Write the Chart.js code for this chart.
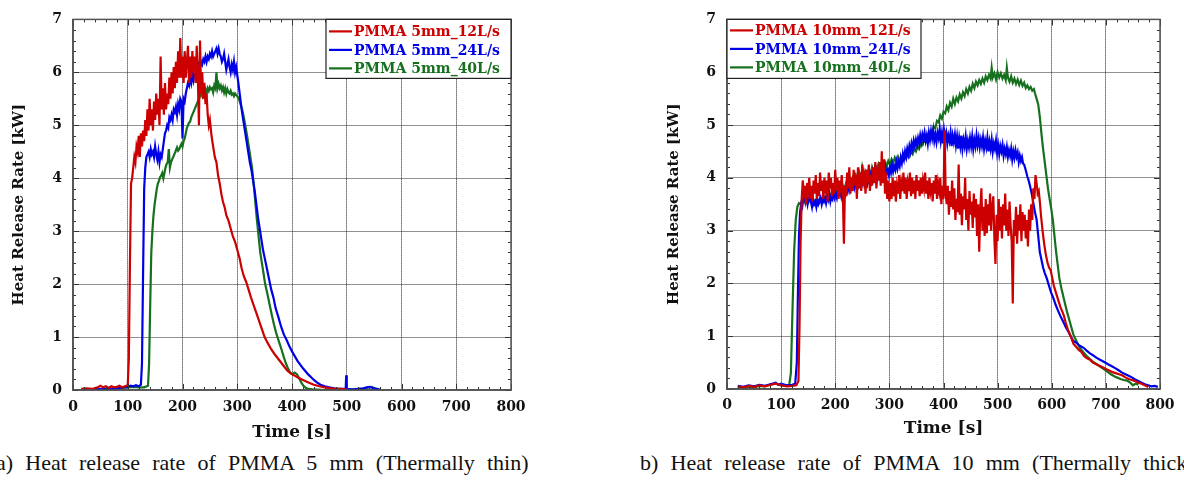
<!DOCTYPE html>
<html><head><meta charset="utf-8">
<script src="https://cdn.jsdelivr.net/npm/chart.js@4.4.0/dist/chart.umd.min.js"></script>
<style>
body{margin:0;width:1184px;height:486px;overflow:hidden;background:#fff;position:relative;}
#c1{position:absolute;left:0;top:0;}
#c2{position:absolute;left:640px;top:0;}
.cap{position:absolute;top:452px;font-family:"Liberation Serif","Times New Roman",Times,serif;font-size:22px;line-height:22px;white-space:nowrap;word-spacing:6.7px;color:#111;}
</style></head>
<body>
<canvas id="c1" width="560" height="450"></canvas>
<canvas id="c2" width="544" height="450"></canvas>
<div class="cap" style="left:-4px">a) Heat release rate of PMMA 5 mm (Thermally thin)</div>
<div class="cap" style="left:640px">b) Heat release rate of PMMA 10 mm (Thermally thick)</div>
<script>
// ---------- tick labels ----------
const xTickValues = [0,100,200,300,400,500,600,700,800];
const yTickValues = [0,1,2,3,4,5,6,7];
const xTitle = 'Time [s]';
const yTitle = 'Heat Release Rate [kW]';
const labels5 = ['PMMA 5mm_12L/s','PMMA 5mm_24L/s','PMMA 5mm_40L/s'];
const labels10 = ['PMMA 10mm_12L/s','PMMA 10mm_24L/s','PMMA 10mm_40L/s'];

// ---------- (a) PMMA 5 mm ----------
const time5_12 = [15,25,35,45,50,55,60,65,70,75,
 80,85,90,95,100,102,104,106,108,110,
 112,114,116,118,120,122,124,126,128,130,
 132,134,136,138,140,142,144,146,148,150,
 152,154,156,158,160,162,164,166,168,170,
 172,174,176,178,180,182,184,186,188,190,
 192,194,196,198,200,202,204,206,208,210,
 212,214,216,218,220,222,224,226,228,230,
 232,234,236,238,240,242,244,246,248,250,
 253,256,259,262,265,268,271,274,277,280,
 284,288,292,296,300,304,308,312,316,320,
 325,330,335,340,345,350,356,362,368,374,
 380,386,392,400,410,420,430,440,450,460,
 470,480,490,500];
const hrr5_12 = [0.02,0.03,0.02,0.05,0.08,0.05,0.07,0.04,0.07,0.05,
 0.06,0.08,0.05,0.07,0.09,0.6,2.4,3.9,4.0,4.2,
 4.4,4.3,4.6,4.5,4.8,4.4,4.85,4.6,4.9,4.7,
 5.1,4.8,5.3,4.9,5.5,5.0,5.3,4.9,5.45,5.1,
 5.6,5.2,5.5,5.0,6.3,5.3,5.7,5.2,5.8,5.3,
 5.6,5.4,5.9,5.5,6.0,5.6,6.1,5.7,6.2,5.8,
 6.4,5.9,6.65,5.9,6.3,5.8,6.4,5.9,6.2,6.5,
 5.8,6.3,5.9,6.4,6.0,6.3,5.8,6.5,5.9,5.0,
 6.6,5.6,6.0,5.5,5.8,5.4,5.6,5.2,5.0,5.1,
 4.8,4.6,4.4,4.3,4.05,3.9,3.7,3.55,3.45,3.3,
 3.2,3.05,2.9,2.8,2.65,2.5,2.3,2.15,2.05,1.92,
 1.75,1.6,1.45,1.3,1.15,1.0,0.88,0.77,0.68,0.6,
 0.52,0.44,0.36,0.3,0.24,0.19,0.14,0.1,0.07,0.05,
 0.03,0.02,0.02,0.01];

const time5_24 = [20,40,60,80,90,100,105,110,115,120,
 124,126,128,130,132,134,136,138,140,142,
 144,146,148,150,152,154,156,158,160,162,
 164,166,168,170,172,174,176,178,180,182,
 184,186,188,190,192,194,196,198,200,202,
 204,206,208,210,212,214,216,218,220,222,
 224,226,228,230,232,234,236,238,240,242,
 244,246,248,250,252,254,256,258,260,262,
 264,266,268,270,272,274,276,278,280,282,
 284,286,288,290,292,294,296,298,300,302,
 305,308,311,314,317,320,323,326,329,332,
 335,338,341,344,347,350,353,356,359,362,
 366,370,375,380,385,390,395,400,405,410,
 415,420,425,430,435,440,446,452,460,468,
 477,486,495,498,499,500,510,520,530,537,
 542,547,553,560];
const hrr5_24 = [0.0,0.01,0.02,0.03,0.05,0.06,0.08,0.07,0.09,0.07,
 0.1,0.5,2.2,3.8,4.2,4.4,4.45,4.5,4.4,4.55,
 4.45,4.5,4.4,4.6,4.45,4.35,4.5,4.3,4.45,4.4,
 4.55,4.7,4.85,4.9,5.0,4.95,5.15,5.1,5.2,5.1,
 5.3,5.25,5.35,5.2,5.4,5.3,5.5,5.45,4.75,5.5,
 5.45,5.6,5.7,5.8,5.75,5.9,5.8,5.95,5.85,6.0,
 6.05,6.1,6.0,6.15,6.1,6.2,6.15,6.25,6.2,6.3,
 6.2,6.3,6.25,6.35,6.3,6.4,6.3,6.35,6.4,6.45,
 6.35,6.45,6.35,6.3,6.2,6.25,6.35,6.2,6.05,6.15,
 6.25,6.1,6.0,6.15,6.05,6.2,6.0,6.1,5.95,5.8,
 5.55,5.3,5.1,4.9,4.7,4.5,4.3,4.15,3.95,3.75,
 3.5,3.25,3.05,2.85,2.65,2.5,2.35,2.2,2.05,1.9,
 1.75,1.55,1.38,1.2,1.05,0.95,0.83,0.73,0.64,0.55,
 0.48,0.41,0.35,0.29,0.24,0.19,0.14,0.1,0.07,0.05,
 0.03,0.02,0.02,0.01,0.28,0.02,0.01,0.02,0.03,0.05,
 0.06,0.04,0.02,0.01];

const time5_40 = [0,20,40,60,80,100,110,120,130,137,
 139,141,143,145,147,149,151,153,155,157,
 159,161,163,165,167,169,171,173,175,177,
 179,181,183,185,187,190,192,194,196,198,
 200,202,204,206,208,210,212,214,216,218,
 220,222,224,226,228,230,232,234,236,238,
 240,242,244,246,248,250,252,254,256,258,
 260,262,264,266,268,270,272,274,276,278,
 280,282,284,286,288,290,292,294,296,298,
 300,303,306,309,312,315,318,321,324,327,
 330,333,336,339,342,345,348,351,355,359,
 363,367,371,376,381,385,389,393,397,401,
 405,409,413,417,421,425,430,440,460,480,
 500,520,530,538,545,552,560];
const hrr5_40 = [0.0,0.0,0.01,0.01,0.03,0.05,0.06,0.05,0.05,0.08,
 0.5,1.6,2.6,3.0,3.3,3.5,3.65,3.8,3.9,3.95,
 4.02,4.05,4.1,4.0,4.1,4.2,4.27,4.3,4.55,4.2,
 4.3,4.35,4.4,4.45,4.5,4.58,4.52,4.55,4.6,4.65,
 4.6,4.7,4.75,4.85,4.95,5.0,5.05,5.07,5.15,5.2,
 5.25,5.3,5.35,5.4,5.45,5.5,5.55,5.6,5.55,5.65,
 5.62,5.68,5.6,5.7,5.65,5.72,5.68,5.7,5.62,5.75,
 5.7,6.0,5.7,5.78,5.7,5.75,5.66,5.72,5.62,5.7,
 5.6,5.68,5.62,5.6,5.65,5.58,5.6,5.55,5.6,5.57,
 5.55,5.5,5.4,5.3,5.15,4.98,4.8,4.6,4.4,4.2,
 3.9,3.55,3.2,2.9,2.6,2.4,2.2,2.0,1.82,1.62,
 1.42,1.24,1.08,0.92,0.76,0.62,0.5,0.4,0.32,0.3,
 0.33,0.3,0.22,0.14,0.08,0.04,0.02,0.01,0.0,0.0,
 0.01,0.01,0.02,0.05,0.06,0.03,0.01];

// ---------- (b) PMMA 10 mm ----------
const time10_12 = [20,30,40,50,60,70,80,90,100,110,
 120,128,132,134,136,138,140,142,144,146,
 148,150,152,154,156,158,160,162,164,166,
 168,170,172,174,176,178,180,182,184,186,
 188,190,192,194,196,198,200,202,204,206,
 208,210,212,214,216,218,220,222,224,226,
 228,230,232,234,236,238,240,242,244,246,
 248,250,252,254,256,258,260,262,264,266,
 268,270,272,274,276,278,280,282,284,286,
 288,290,292,294,296,298,300,302,304,306,
 308,310,312,314,316,318,320,322,324,326,
 328,330,332,334,336,338,340,342,344,346,
 348,350,352,354,356,358,360,362,364,366,
 368,370,372,374,376,378,380,382,384,386,
 388,390,392,394,396,398,400,402,404,406,
 408,410,412,414,416,418,420,422,424,426,
 428,430,432,434,436,438,440,442,444,446,
 448,450,452,454,456,458,460,462,464,466,
 468,470,472,474,476,478,480,482,484,486,
 488,490,492,494,496,498,500,502,504,506,
 508,510,512,514,516,518,520,522,524,526,
 528,530,532,534,536,538,540,542,544,546,
 548,550,552,554,556,558,560,562,564,566,
 568,570,572,574,576,578,580,583,586,589,
 592,595,598,601,604,607,610,613,616,619,
 622,626,630,635,640,645,650,655,660,665,
 670,676,682,688,694,700,706,712,718,724,
 730,736,742,748,754,760,766,772,778];
const hrr10_12 = [0.05,0.03,0.06,0.04,0.07,0.05,0.08,0.1,0.07,0.05,
 0.06,0.07,0.15,1.2,2.8,3.6,3.95,3.7,3.85,3.5,
 3.9,3.75,4.0,3.6,3.85,3.55,3.95,3.7,4.05,3.6,
 3.9,3.65,4.1,3.75,3.95,3.6,4.0,3.7,3.95,3.55,
 4.1,3.8,4.0,3.65,3.9,3.7,4.15,3.75,4.0,3.6,
 3.95,3.8,4.05,3.7,2.75,3.85,3.65,4.1,3.8,4.2,
 3.7,4.0,3.75,4.15,3.85,4.05,3.6,4.2,3.8,4.1,
 3.75,4.25,3.85,4.0,3.7,4.15,3.9,4.25,3.75,4.05,
 3.85,4.2,3.9,4.3,3.8,4.1,3.95,4.3,3.85,4.5,
 3.9,4.35,3.7,4.1,3.6,3.95,3.55,3.9,3.6,4.0,
 3.65,3.95,3.55,3.85,3.7,4.05,3.6,3.9,3.75,4.1,
 3.7,4.0,3.6,3.9,3.75,4.1,3.65,4.0,3.7,3.95,
 3.6,4.05,3.75,3.95,3.65,4.0,3.7,3.95,3.8,4.1,
 3.7,3.95,3.6,4.0,3.75,3.9,3.55,3.95,3.7,4.05,
 3.6,3.9,3.75,4.0,3.5,3.85,3.6,4.9,3.7,3.5,
 3.85,3.3,3.75,3.45,3.95,3.4,3.8,3.2,3.6,3.35,
 4.25,3.3,3.7,3.1,3.65,3.4,4.0,3.2,3.6,3.0,
 3.75,3.3,3.55,3.05,3.7,3.25,3.6,2.9,3.5,2.6,
 3.4,3.8,3.0,3.45,2.9,3.6,2.95,3.5,3.1,3.7,
 3.0,3.45,3.65,2.85,2.37,3.3,2.8,3.6,3.0,3.45,
 2.85,3.5,3.1,3.7,3.0,3.4,2.9,3.55,3.1,2.8,
 1.62,3.2,2.9,3.45,2.75,3.3,3.0,3.5,2.8,3.35,
 3.0,3.3,2.85,3.2,2.7,3.4,3.0,3.5,3.2,3.8,
 3.6,4.05,3.9,3.7,3.75,3.55,3.3,3.0,2.75,2.55,
 2.4,2.3,2.25,2.1,1.95,1.85,1.75,1.65,1.55,1.48,
 1.4,1.25,1.12,1.0,0.86,0.8,0.74,0.7,0.62,0.58,
 0.56,0.5,0.47,0.44,0.41,0.38,0.35,0.32,0.3,0.28,
 0.26,0.22,0.19,0.17,0.15,0.12,0.1,0.07,0.04];

const time10_24 = [20,30,40,50,60,70,80,90,95,100,
 110,120,126,129,131,133,135,137,139,141,
 143,145,147,149,151,153,155,157,159,161,
 163,165,167,169,171,173,175,177,179,181,
 183,185,187,189,191,193,195,197,199,201,
 203,205,207,209,211,213,215,217,219,221,
 223,225,227,229,231,233,235,237,239,241,
 243,245,247,249,251,253,255,257,259,261,
 263,265,267,269,271,273,275,277,279,281,
 283,285,287,289,291,293,295,297,299,301,
 303,305,307,309,311,313,315,317,319,321,
 323,325,327,329,331,333,335,337,339,341,
 343,345,347,349,351,353,355,357,359,361,
 363,365,367,369,371,373,375,377,379,381,
 383,385,387,389,391,393,395,397,399,401,
 403,405,407,409,411,413,415,417,419,421,
 423,425,427,429,431,433,435,437,439,441,
 443,445,447,449,451,453,455,457,459,461,
 463,465,467,469,471,473,475,477,479,481,
 483,485,487,489,491,493,495,497,499,501,
 503,505,507,509,511,513,515,517,519,521,
 523,525,527,529,531,533,535,537,539,541,
 543,545,547,549,551,553,555,557,560,563,
 566,569,572,575,578,581,584,587,591,595,
 599,603,607,611,616,621,626,631,636,640,
 645,650,655,659,665,670,676,683,690,697,
 704,711,718,724,730,736,742,748,754,760,
 766,772,778,784,790,796];
const hrr10_24 = [0.06,0.04,0.07,0.05,0.08,0.06,0.09,0.12,0.08,0.1,
 0.07,0.08,0.1,0.5,1.8,2.9,3.35,3.5,3.45,3.6,
 3.7,3.55,3.65,3.5,3.6,3.7,3.55,3.45,3.6,3.5,
 3.55,3.45,3.6,3.5,3.55,3.62,3.5,3.6,3.55,3.62,
 3.52,3.65,3.58,3.7,3.55,3.65,3.6,3.72,3.62,3.7,
 3.62,3.75,3.68,3.75,3.65,3.8,3.7,3.78,3.7,3.82,
 3.74,3.85,3.76,3.85,3.8,3.88,3.8,3.9,3.82,3.92,
 3.85,3.95,3.86,3.95,3.88,4.0,3.9,3.95,3.88,4.02,
 3.92,4.05,3.95,4.1,3.98,4.05,3.96,4.12,4.0,4.08,
 4.0,4.15,4.05,4.12,4.02,4.18,4.08,4.15,4.05,4.2,
 4.1,4.25,4.12,4.22,4.15,4.3,4.18,4.3,4.22,4.38,
 4.28,4.45,4.35,4.5,4.4,4.55,4.45,4.6,4.5,4.65,
 4.55,4.7,4.6,4.72,4.62,4.75,4.65,4.8,4.68,4.82,
 4.72,4.85,4.7,4.8,4.65,4.85,4.72,4.88,4.75,4.9,
 4.7,4.82,4.68,4.85,4.75,4.92,4.7,4.85,4.65,4.9,
 4.75,4.85,4.65,4.8,4.7,4.85,4.6,4.8,4.68,4.82,
 4.62,4.78,4.55,4.75,4.6,4.8,4.55,4.72,4.6,4.78,
 4.55,4.7,4.58,4.75,4.6,4.78,4.55,4.72,4.6,4.8,
 4.62,4.75,4.58,4.72,4.6,4.76,4.55,4.7,4.58,4.75,
 4.5,4.68,4.55,4.72,4.5,4.65,4.55,4.7,4.48,4.62,
 4.45,4.6,4.5,4.62,4.42,4.55,4.45,4.58,4.4,4.52,
 4.42,4.55,4.35,4.5,4.38,4.52,4.4,4.48,4.3,4.42,
 4.32,4.39,4.27,4.25,4.18,4.1,4.02,3.96,3.84,3.7,
 3.52,3.35,3.21,2.9,2.59,2.45,2.3,2.2,2.09,1.95,
 1.82,1.72,1.6,1.5,1.38,1.28,1.17,1.08,0.98,0.91,
 0.88,0.83,0.8,0.78,0.72,0.68,0.64,0.59,0.55,0.51,
 0.47,0.43,0.39,0.35,0.31,0.28,0.25,0.22,0.18,0.15,
 0.12,0.09,0.07,0.05,0.06,0.04];

const time10_40 = [20,30,40,50,60,70,80,90,100,110,
 115,118,121,124,127,130,133,136,139,142,
 145,148,151,154,157,160,163,166,169,172,
 175,178,181,184,187,190,193,196,199,202,
 205,208,211,214,217,220,223,226,229,232,
 235,238,241,244,247,250,253,256,259,262,
 265,268,271,274,277,280,283,286,289,292,
 295,298,301,304,307,310,313,316,319,322,
 325,328,331,334,337,340,343,346,349,352,
 355,358,361,364,367,370,373,376,379,382,
 385,388,391,394,397,400,403,406,409,412,
 415,418,421,424,427,430,433,436,439,442,
 445,448,451,454,457,460,463,466,469,472,
 475,478,481,484,487,489,491,494,497,500,
 503,506,509,512,515,517,519,522,525,528,
 531,534,537,540,543,546,549,552,555,558,
 561,564,567,569,572,575,578,581,584,587,
 590,593,596,599,602,605,608,611,614,618,
 623,628,634,640,646,652,658,664,670,676,
 683,690,697,704,709,714,720,727,733,739,
 745,750,755,760];
const hrr10_40 = [0.04,0.02,0.05,0.03,0.06,0.05,0.08,0.1,0.07,0.06,
 0.08,0.3,1.5,2.6,3.2,3.45,3.52,3.5,3.55,3.58,
 3.52,3.6,3.55,3.62,3.5,3.58,3.55,3.6,3.52,3.62,
 3.58,3.65,3.6,3.68,3.62,3.7,3.65,3.74,3.68,3.78,
 3.72,3.8,3.74,3.85,3.78,3.9,3.84,3.95,3.88,4.0,
 3.92,4.05,3.95,4.1,3.92,4.2,4.05,4.12,4.0,4.15,
 4.05,4.2,4.1,4.22,4.12,4.25,4.15,4.28,4.2,4.3,
 4.22,4.32,4.25,4.35,4.28,4.38,4.3,4.4,4.32,4.38,
 4.33,4.42,4.36,4.45,4.4,4.5,4.45,4.55,4.5,4.6,
 4.55,4.65,4.62,4.72,4.68,4.8,4.76,4.88,4.85,4.97,
 4.95,5.08,5.05,5.18,5.12,5.25,5.22,5.35,5.28,5.42,
 5.35,5.5,5.4,5.52,5.45,5.58,5.5,5.62,5.55,5.68,
 5.6,5.72,5.65,5.78,5.7,5.82,5.75,5.85,5.78,5.88,
 5.8,5.92,5.85,5.95,5.88,6.08,5.9,5.98,5.86,6.0,
 5.9,5.98,5.88,5.95,5.85,6.08,5.9,5.82,5.92,5.8,
 5.88,5.78,5.86,5.76,5.84,5.74,5.8,5.7,5.75,5.68,
 5.72,5.65,5.68,5.6,5.5,5.39,5.15,4.83,4.55,4.3,
 4.05,3.8,3.6,3.42,3.2,2.9,2.6,2.35,2.1,1.9,
 1.68,1.47,1.25,1.03,0.9,0.78,0.7,0.63,0.57,0.52,
 0.47,0.42,0.37,0.32,0.28,0.25,0.22,0.19,0.17,0.16,
 0.12,0.07,0.1,0.08];

const colors = ['#cc0000','#0000e8','#16701e'];

// ---------- plugin: frame, inner ticks, boxed legend ----------
const frameLegend = {
  id:'frameLegend',
  afterDatasetsDraw(chart, args, o){
    const {ctx, chartArea:ca, scales:{x,y}} = chart;
    ctx.save();
    ctx.strokeStyle='#333'; ctx.lineWidth=1;
    ctx.beginPath();
    for(let v=0; v<=800; v+=20){
      const px=Math.round(x.getPixelForValue(v))+0.5, L=(v%100===0)?6:3;
      ctx.moveTo(px,ca.bottom); ctx.lineTo(px,ca.bottom-L);
      ctx.moveTo(px,ca.top); ctx.lineTo(px,ca.top+L);
    }
    for(let k=0;k<=35;k++){
      const py=Math.round(y.getPixelForValue(k*0.2))+0.5, L=(k%5===0)?6:3;
      ctx.moveTo(ca.left,py); ctx.lineTo(ca.left+L,py);
      ctx.moveTo(ca.right,py); ctx.lineTo(ca.right-L,py);
    }
    ctx.stroke();
    ctx.lineWidth=1.5; ctx.strokeStyle='#555';
    ctx.strokeRect(ca.left, ca.top, ca.right-ca.left, ca.bottom-ca.top);
    // legend box
    const w=o.width, h=o.height;
    const x0 = o.side==='right' ? ca.right-w : ca.left;
    const y0 = ca.top;
    ctx.fillStyle='#fff'; ctx.fillRect(x0,y0,w,h);
    ctx.strokeStyle='#222'; ctx.lineWidth=1.2;
    ctx.strokeRect(x0,y0,w,h);
    ctx.font='bold 14px "DejaVu Serif"'; ctx.textBaseline='middle'; ctx.textAlign='left';
    chart.data.datasets.forEach((ds,i)=>{
      const yy = y0 + o.rowStart + i*o.rowGap;
      ctx.strokeStyle=ds.borderColor; ctx.lineWidth=2.2;
      ctx.beginPath(); ctx.moveTo(x0+o.lineStart,yy); ctx.lineTo(x0+o.lineStart+o.lineLen,yy); ctx.stroke();
      ctx.fillStyle=ds.borderColor; ctx.fillText(ds.label, x0+o.textStart, yy+1);
    });
    ctx.restore();
  }
};

function buildChart(id, series, cfg){
  return new Chart(document.getElementById(id), {
    type:'line',
    data:{datasets: series.map((s,k)=>({
      label:s.label, data:s.t.map((t,i)=>({x:t,y:s.v[i]})),
      borderColor:colors[k], backgroundColor:colors[k], borderWidth:2.2,
      pointRadius:0, tension:0, fill:false }))},
    options:{
      responsive:false, animation:false, devicePixelRatio:1,
      layout:{padding:{left:0, top:cfg.top, right:cfg.right, bottom:0}},
      plugins:{legend:{display:false}, tooltip:{enabled:false}, frameLegend:cfg.legend},
      scales:{
        x:{type:'linear', min:0, max:800,
          afterBuildTicks:(s)=>{s.ticks = xTickValues.map(v=>({value:v}));},
          ticks:{color:'#111', font:{family:'DejaVu Serif', weight:'bold', size:14}, padding:cfg.xPad, maxRotation:0, autoSkip:false},
          grid:{color:'#222', lineWidth:1, drawTicks:false},
          border:{display:true, color:'#555', width:1.5, dash:[1,1]},
          title:{display:true, text:xTitle, color:'#111', font:{family:'DejaVu Serif', weight:'bold', size:17}, padding:{top:0, bottom:cfg.xTitlePad}},
          afterFit:(s)=>{s.height=cfg.xHeight;}
        },
        y:{type:'linear', min:0, max:7,
          afterBuildTicks:(s)=>{s.ticks = yTickValues.map(v=>({value:v}));},
          ticks:{color:'#111', font:{family:'DejaVu Serif', weight:'bold', size:14}, padding:11, autoSkip:false},
          grid:{color:'#222', lineWidth:1, drawTicks:false},
          border:{display:true, color:'#555', width:1.5, dash:[1,1]},
          title:{display:true, text:yTitle, color:'#111', font:{family:'DejaVu Serif', weight:'bold', size:15}, padding:{top:cfg.yTitlePad, bottom:0}},
          afterFit:(s)=>{s.width=cfg.yWidth;}
        }
      }
    },
    plugins:[frameLegend]
  });
}

buildChart('c1', [
  {label:labels5[0], t:time5_12, v:hrr5_12},
  {label:labels5[1], t:time5_24, v:hrr5_24},
  {label:labels5[2], t:time5_40, v:hrr5_40}
], {top:13, right:49, yWidth:73, xHeight:60, xPad:9, xTitlePad:7, yTitlePad:10,
    legend:{side:'right', width:185, height:59, rowStart:12, rowGap:18.5, lineStart:3, lineLen:23, textStart:28}});

buildChart('c2', [
  {label:labels10[0], t:time10_12, v:hrr10_12},
  {label:labels10[1], t:time10_24, v:hrr10_24},
  {label:labels10[2], t:time10_40, v:hrr10_40}
], {top:14, right:24, yWidth:87, xHeight:61, xPad:8, xTitlePad:11, yTitlePad:25,
    legend:{side:'left', width:194, height:59, rowStart:11, rowGap:18.5, lineStart:3, lineLen:23, textStart:28}});
</script>
</body></html>
